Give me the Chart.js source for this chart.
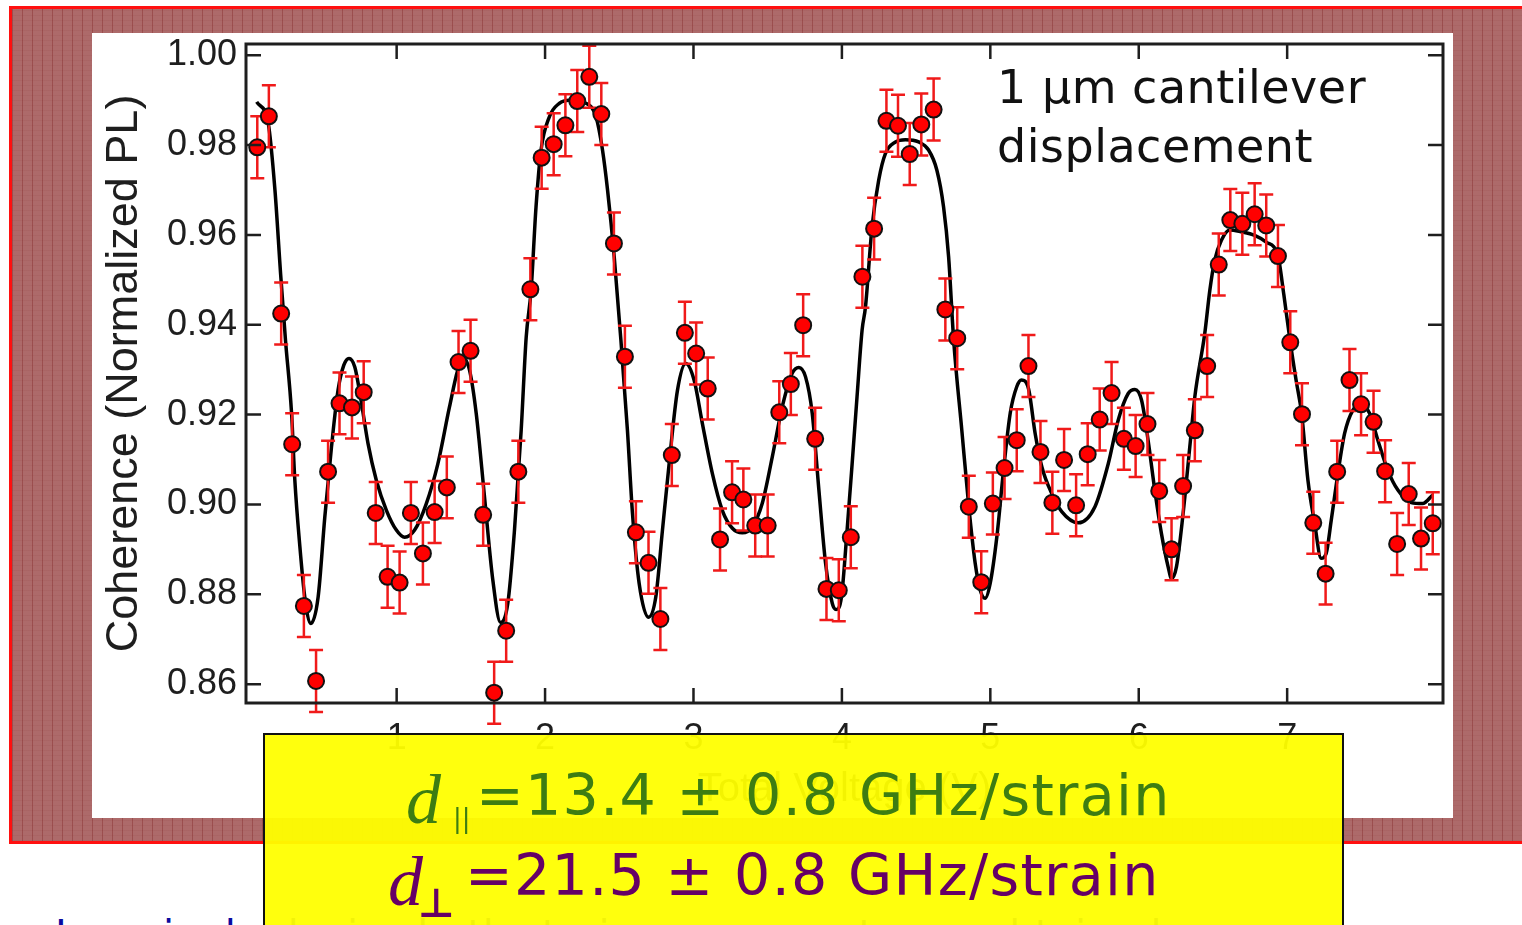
<!DOCTYPE html>
<html>
<head>
<meta charset="utf-8">
<script src="https://cdn.jsdelivr.net/npm/chart.js@4.4.1/dist/chart.umd.min.js"></script>
<style>
  html, body { margin: 0; padding: 0; width: 1522px; height: 925px; overflow: hidden; background: #fff; }
  #panel {
    position: absolute; left: 9px; top: 6px; width: 1520px; height: 832px;
    border: 3px solid #ff1010; border-right: none;
    background-color: #ad6a6a;
    background-image:
      repeating-linear-gradient(90deg, rgba(135,45,45,0.45) 0 1px, transparent 1px 10px),
      repeating-linear-gradient(0deg, rgba(150,70,70,0.15) 0 1px, transparent 1px 5px);
  }
  #fig { position: absolute; left: 92px; top: 33px; width: 1361px; height: 785px; background: #fff; }
  #note {
    position: absolute; left: 997px; top: 58px;
    font: 46px "DejaVu Sans", Verdana, sans-serif; line-height: 59px; letter-spacing: 0.5px; color: #111;
  }
  #box {
    position: absolute; left: 263px; top: 733px; width: 1077px; height: 240px;
    border: 2px solid #111; background: rgba(255,255,0,0.95);
  }
  .t { position: absolute; white-space: nowrap; }
  .d { font: italic 70px "Liberation Serif", "Times New Roman", serif; }
  .eq { font: 57px "DejaVu Sans", Verdana, sans-serif; letter-spacing: 1.3px; }
  .g { color: #3d7d12; }
  .p { color: #660066; }
  #bottom {
    position: absolute; left: 55px; top: 912px;
    font: 40px "DejaVu Sans", Verdana, sans-serif; color: #0a0aa0; white-space: nowrap;
  }
</style>
</head>
<body>
<div id="panel"></div>
<div id="fig"><canvas id="chart" width="1361" height="785"></canvas></div>
<div id="note">1 μm cantilever<br>displacement</div>
<div id="bottom">In a single device both strain components are obtained</div>
<div id="box"></div>
<!-- line 1 -->
<div class="t d g" style="left:406px; top:760px;">d</div>
<div class="t g" style="left:453px; top:803px; font:26px 'DejaVu Sans', sans-serif;">||</div>
<div class="t eq g" style="left:476px; top:762px;">=13.4 ± 0.8 GHz/strain</div>
<!-- line 2 -->
<div class="t d p" style="left:388px; top:842px;">d</div>
<div class="t p" style="left:418px; top:880px; font:bold 40px 'DejaVu Sans', sans-serif;">⊥</div>
<div class="t eq p" style="left:465px; top:842px;">=21.5 ± 0.8 GHz/strain</div>

<script>
// measured points (tip displacement, coherence)
const ptX = [0.061,0.139,0.222,0.296,0.375,0.457,0.538,0.615,0.699,0.778,0.859,0.939,1.020,1.096,1.177,1.256,1.338,1.417,1.498,1.583,
  1.657,1.738,1.820,1.901,1.977,2.058,2.137,2.217,2.298,2.379,2.464,2.538,2.612,2.697,2.777,2.854,2.942,3.018,3.096,3.179,
  3.260,3.336,3.416,3.500,3.578,3.656,3.739,3.820,3.896,3.979,4.060,4.138,4.217,4.300,4.378,4.457,4.535,4.618,4.697,4.777,
  4.855,4.939,5.017,5.096,5.178,5.257,5.338,5.418,5.497,5.578,5.656,5.737,5.817,5.900,5.979,6.059,6.138,6.221,6.299,6.378,
  6.461,6.539,6.617,6.698,6.781,6.859,6.938,7.021,7.100,7.176,7.259,7.337,7.420,7.498,7.582,7.660,7.741,7.819,7.902,7.981];
const ptY = [0.9795,0.9864,0.9425,0.9134,0.8774,0.8607,0.9073,0.9225,0.9216,0.9250,0.8981,0.8839,0.8826,0.8981,0.8891,0.8983,0.9038,0.9317,0.9342,0.8977,
  0.8581,0.8719,0.9073,0.9479,0.9772,0.9802,0.9844,0.9898,0.9952,0.9869,0.9581,0.9329,0.8938,0.8870,0.8745,0.9110,0.9382,0.9336,0.9258,0.8922,
  0.9027,0.9011,0.8953,0.8953,0.9205,0.9268,0.9399,0.9146,0.8812,0.8809,0.8927,0.9507,0.9614,0.9854,0.9843,0.9780,0.9846,0.9879,0.9434,0.9370,
  0.8995,0.8827,0.9002,0.9081,0.9143,0.9308,0.9117,0.9004,0.9099,0.8998,0.9112,0.9189,0.9248,0.9146,0.9130,0.9179,0.9030,0.8900,0.9041,0.9165,
  0.9308,0.9534,0.9633,0.9625,0.9646,0.9621,0.9553,0.9361,0.9201,0.8959,0.8846,0.9073,0.9277,0.9223,0.9184,0.9074,0.8912,0.9023,0.8924,0.8958];
const ERR = 0.0069;

// fitted curve
const fitX = [0.057,0.135,0.180,0.218,0.251,0.292,0.314,0.348,0.381,0.422,0.471,0.516,0.561,0.605,0.644,0.679,0.718,0.756,0.807,0.863,
  0.931,0.998,1.054,1.121,1.200,1.278,1.356,1.412,1.451,1.491,1.536,1.592,1.648,1.700,1.749,1.794,1.839,1.873,1.906,1.939,
  1.973,2.029,2.096,2.163,2.276,2.343,2.387,2.421,2.466,2.511,2.555,2.589,2.634,2.697,2.746,2.791,2.836,2.892,2.948,3.004,
  3.060,3.127,3.194,3.262,3.329,3.396,3.463,3.531,3.598,3.665,3.710,3.755,3.800,3.845,3.890,3.935,3.961,3.997,4.035,4.069,
  4.102,4.136,4.159,4.203,4.248,4.293,4.361,4.428,4.517,4.584,4.640,4.685,4.719,4.753,4.808,4.853,4.898,4.932,4.965,4.999,
  5.044,5.089,5.134,5.178,5.210,5.257,5.302,5.347,5.414,5.481,5.593,5.705,5.795,5.862,5.929,5.974,6.019,6.063,6.108,6.153,
  6.198,6.221,6.254,6.299,6.344,6.378,6.445,6.479,6.512,6.557,6.613,6.689,6.781,6.859,6.938,6.978,7.021,7.060,7.098,7.140,
  7.185,7.229,7.263,7.297,7.342,7.387,7.443,7.499,7.555,7.611,7.678,7.746,7.835,7.913,7.980];
const fitY = [0.9896,0.9848,0.9700,0.9514,0.9366,0.9203,0.9054,0.8906,0.8794,0.8735,0.8794,0.8972,0.9128,0.9254,0.9310,0.9325,0.9306,0.9240,0.9136,0.9054,
  0.8987,0.8943,0.8927,0.8943,0.9002,0.9091,0.9217,0.9299,0.9325,0.9299,0.9203,0.9017,0.8832,0.8737,0.8780,0.8943,0.9165,0.9373,0.9477,0.9662,
  0.9789,0.9863,0.9893,0.9900,0.9893,0.9863,0.9789,0.9700,0.9551,0.9366,0.9165,0.8980,0.8824,0.8749,0.8794,0.8943,0.9091,0.9254,0.9314,0.9277,
  0.9180,0.9069,0.8987,0.8947,0.8937,0.8950,0.9002,0.9106,0.9217,0.9292,0.9305,0.9284,0.9203,0.9032,0.8869,0.8780,0.8766,0.8794,0.8943,0.9091,
  0.9240,0.9388,0.9440,0.9618,0.9722,0.9781,0.9807,0.9812,0.9807,0.9789,0.9744,0.9662,0.9551,0.9366,0.9165,0.9002,0.8869,0.8809,0.8791,0.8824,
  0.8928,0.9076,0.9203,0.9262,0.9277,0.9258,0.9158,0.9084,0.9024,0.8984,0.8959,0.8995,0.9091,0.9188,0.9247,0.9256,0.9232,0.9143,0.9032,0.8935,
  0.8861,0.8835,0.8861,0.8980,0.9128,0.9240,0.9381,0.9477,0.9544,0.9588,0.9611,0.9607,0.9599,0.9584,0.9553,0.9466,0.9361,0.9277,0.9201,0.9054,
  0.8958,0.8880,0.8891,0.8965,0.9069,0.9158,0.9210,0.9223,0.9203,0.9143,0.9076,0.9032,0.9004,0.9002,0.9021];

const xTicks = [1, 2, 3, 4, 5, 6, 7];
const yTicks = [0.86, 0.88, 0.90, 0.92, 0.94, 0.96, 0.98, 1.00];

const axisColor = '#1e1e1e';
const tickFont = { family: 'Liberation Sans', size: 36 };

// error bars go under the markers but over the fit line
const errorBars = {
  id: 'errorBars',
  beforeDatasetDraw(chart, args) {
    if (args.index !== 0) return;
    const { ctx, scales: { x, y } } = chart;
    ctx.save();
    ctx.strokeStyle = '#f01a1a';
    ctx.lineWidth = 2.5;
    ptX.forEach((v, i) => {
      const px = x.getPixelForValue(v);
      const top = y.getPixelForValue(ptY[i] + ERR);
      const bot = y.getPixelForValue(ptY[i] - ERR);
      ctx.beginPath();
      ctx.moveTo(px, top); ctx.lineTo(px, bot);
      ctx.moveTo(px - 7, top); ctx.lineTo(px + 7, top);
      ctx.moveTo(px - 7, bot); ctx.lineTo(px + 7, bot);
      ctx.stroke();
    });
    ctx.restore();
  }
};

// box frame with inward ticks on all four sides
const frame = {
  id: 'frame',
  afterDraw(chart) {
    const { ctx, chartArea: a, scales: { x, y } } = chart;
    ctx.save();
    ctx.strokeStyle = axisColor;
    ctx.lineWidth = 2.5;
    ctx.beginPath();
    xTicks.forEach(v => {
      const px = x.getPixelForValue(v);
      ctx.moveTo(px, a.bottom); ctx.lineTo(px, a.bottom - 15);
      ctx.moveTo(px, a.top); ctx.lineTo(px, a.top + 15);
    });
    yTicks.forEach(v => {
      const py = y.getPixelForValue(v);
      ctx.moveTo(a.left, py); ctx.lineTo(a.left + 15, py);
      ctx.moveTo(a.right, py); ctx.lineTo(a.right - 15, py);
    });
    ctx.stroke();
    ctx.lineWidth = 3;
    ctx.strokeRect(a.left, a.top, a.right - a.left, a.bottom - a.top);
    ctx.restore();
  }
};

new Chart(document.getElementById('chart'), {
  type: 'scatter',
  data: {
    datasets: [
      {
        data: ptX.map((v, i) => ({ x: v, y: ptY[i] })),
        pointRadius: 8,
        pointBackgroundColor: '#ff0000',
        pointBorderColor: '#111',
        pointBorderWidth: 2,
        order: 0
      },
      {
        data: fitX.map((v, i) => ({ x: v, y: fitY[i] })),
        showLine: true,
        borderColor: '#000',
        borderWidth: 3.5,
        pointRadius: 0,
        cubicInterpolationMode: 'monotone',
        order: 1
      }
    ]
  },
  options: {
    responsive: false,
    animation: false,
    layout: { padding: { left: 0, top: 11, right: 8, bottom: 0 } },
    plugins: { legend: { display: false }, tooltip: { enabled: false } },
    scales: {
      x: {
        type: 'linear', min: -0.015, max: 8.05,
        afterBuildTicks: s => { s.ticks = xTicks.map(v => ({ value: v })); },
        afterFit: s => { s.height = 115; s.paddingLeft = 0; s.paddingRight = 0; },
        grid: { display: false, drawTicks: false },
        border: { display: false },
        ticks: { font: tickFont, color: axisColor, padding: 14 },
        title: { display: true, text: 'Total Voltage (V)', font: { family: 'Liberation Sans', size: 40 }, color: axisColor, padding: { top: 0, bottom: 4 } }
      },
      y: {
        type: 'linear', min: 0.8558, max: 1.0025,
        afterBuildTicks: s => { s.ticks = yTicks.map(v => ({ value: v })); },
        afterFit: s => { s.width = 154; s.paddingTop = 0; s.paddingBottom = 0; },
        grid: { display: false, drawTicks: false },
        border: { display: false },
        ticks: { font: tickFont, color: axisColor, padding: 9, callback: v => v.toFixed(2) },
        title: { display: true, text: 'Coherence (Normalized PL)', font: { family: 'Liberation Sans', size: 45 }, color: axisColor, padding: { top: 6, bottom: 0 } }
      }
    }
  },
  plugins: [errorBars, frame]
});
</script>
</body>
</html>
